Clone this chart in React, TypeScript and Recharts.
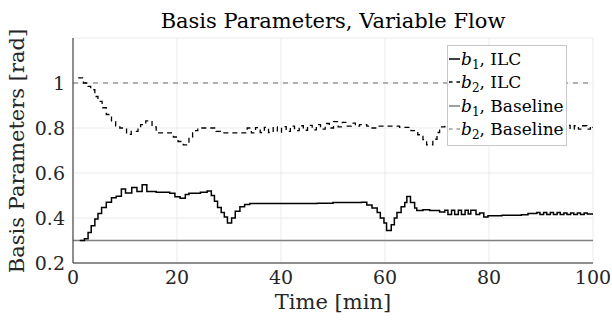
import React from 'react';
import { LineChart, Line, XAxis, YAxis, CartesianGrid, Legend, Label, Customized } from 'recharts';

const FONT = '"DejaVu Serif", serif';

const xTicks = [0, 20, 40, 60, 80, 100];
const yTicks = [0.2, 0.4, 0.6, 0.8, 1];

const b1Time = [
  1.3, 2.2, 2.9, 3.5, 4.2, 4.8, 5.5, 6.4, 7.4, 8.3,
  9.3, 10.1, 11.3, 12.3, 13.3, 14.2, 16.0, 18.6, 19.6, 20.6,
  21.6, 22.3, 24.5, 25.8, 26.6, 27.2, 27.8, 28.5, 29.1, 29.7,
  30.5, 31.2, 32.1, 33.0, 34.0, 40.0, 47.0, 50.0, 55.5, 56.5,
  57.5, 58.5, 59.1, 59.8, 60.3, 61.2, 61.8, 62.3, 63.1, 63.8,
  64.2, 64.9, 65.7, 66.1, 67.3, 68.6, 70.5, 71.5, 72.1, 72.8,
  73.4, 74.1, 74.7, 75.4, 76.0, 76.5, 77.5, 78.2, 79.0, 79.8,
  82.5, 86.2, 87.5, 89.2, 89.8, 90.5, 91.1, 91.8, 92.4, 93.1,
  93.7, 94.4, 95.0, 95.7, 96.3, 97.0, 97.6, 98.3, 98.9, 100,
];
const b1Ilc = [
  0.300, 0.308, 0.336, 0.366, 0.396, 0.420, 0.447, 0.470, 0.490, 0.497,
  0.529, 0.511, 0.536, 0.518, 0.548, 0.518, 0.515, 0.510, 0.495, 0.488,
  0.505, 0.510, 0.515, 0.520, 0.500, 0.474, 0.447, 0.425, 0.405, 0.378,
  0.400, 0.430, 0.450, 0.460, 0.465, 0.464, 0.466, 0.469, 0.470, 0.458,
  0.445, 0.425, 0.400, 0.378, 0.345, 0.370, 0.400, 0.425, 0.450, 0.469,
  0.496, 0.469, 0.445, 0.433, 0.437, 0.433, 0.427, 0.435, 0.416, 0.435,
  0.416, 0.435, 0.416, 0.435, 0.418, 0.435, 0.416, 0.422, 0.405, 0.410,
  0.412, 0.414, 0.420, 0.424, 0.416, 0.424, 0.416, 0.424, 0.416, 0.424,
  0.416, 0.422, 0.416, 0.422, 0.416, 0.422, 0.416, 0.422, 0.418, 0.418,
];

const b2Time = [
  1.0, 2.0, 2.9, 3.4, 4.2, 4.8, 5.6, 6.4, 7.4, 8.2,
  9.0, 10.3, 11.2, 12.5, 13.0, 14.0, 15.2, 16.0, 17.4, 19.3,
  20.2, 21.2, 22.3, 23.0, 24.0, 27.5, 28.8, 33.5, 34.3, 35.1,
  36.0, 36.8, 37.6, 38.5, 39.3, 40.1, 41.0, 41.8, 42.6, 43.5,
  44.3, 45.1, 46.0, 46.8, 47.6, 48.5, 49.3, 50.1, 51.0, 51.8,
  52.6, 53.5, 54.3, 55.1, 56.5, 57.5, 58.5, 62.8, 65.0, 66.3,
  67.3, 68.0, 69.2, 70.0, 70.5, 71.5, 73.0, 75.0, 77.0, 80.0,
  83.0, 86.0, 89.0, 92.0, 94.0, 94.8, 95.6, 96.4, 97.2, 98.0,
  98.8, 99.5, 100,
];
const b2Ilc = [
  1.023, 1.000, 0.985, 0.970, 0.940, 0.918, 0.890, 0.860, 0.828, 0.805,
  0.800, 0.772, 0.785, 0.800, 0.815, 0.832, 0.805, 0.778, 0.778, 0.760,
  0.740, 0.725, 0.760, 0.788, 0.800, 0.785, 0.778, 0.800, 0.778, 0.802,
  0.780, 0.803, 0.780, 0.805, 0.782, 0.806, 0.785, 0.808, 0.788, 0.810,
  0.790, 0.812, 0.792, 0.815, 0.795, 0.820, 0.800, 0.828, 0.805, 0.825,
  0.808, 0.822, 0.808, 0.815, 0.808, 0.800, 0.808, 0.803, 0.788, 0.770,
  0.748, 0.725, 0.750, 0.780, 0.805, 0.810, 0.800, 0.812, 0.798, 0.808,
  0.798, 0.808, 0.800, 0.808, 0.798, 0.812, 0.795, 0.810, 0.795, 0.810,
  0.795, 0.808, 0.800,
];

const baseTime = [0, 100];
const b1Base = [0.3, 0.3];
const b2Base = [1, 1];

const zip = (ts: number[], vs: number[]) => ts.map((t, i) => ({ t, v: vs[i] }));

const b1IlcData = zip(b1Time, b1Ilc);
const b2IlcData = zip(b2Time, b2Ilc);
const b1BaseData = zip(baseTime, b1Base);
const b2BaseData = zip(baseTime, b2Base);

const legendItems = [
  { sub: '1', name: 'ILC', color: '#000000', dashed: false },
  { sub: '2', name: 'ILC', color: '#000000', dashed: true },
  { sub: '1', name: 'Baseline', color: '#808080', dashed: false },
  { sub: '2', name: 'Baseline', color: '#9a9a9a', dashed: true },
];

const LegendBox = () => (
  <div
    style={{
      boxSizing: 'border-box',
      width: 120,
      height: 101,
      background: '#fff',
      border: '1px solid #c8c8c8',
      fontFamily: FONT,
      fontSize: 17,
      color: '#000',
      paddingTop: 1,
    }}
  >
    {legendItems.map((it, i) => (
      <div key={i} style={{ height: 23.5, display: 'flex', alignItems: 'center', whiteSpace: 'nowrap' }}>
        <svg width={13} height={10} style={{ flex: 'none' }}>
          <line
            x1={1}
            y1={5}
            x2={12}
            y2={5}
            stroke={it.color}
            strokeWidth={1.5}
            strokeDasharray={it.dashed ? '3.5 4' : undefined}
          />
        </svg>
        <span>
          <i>b</i>
          <span style={{ fontSize: 12, position: 'relative', top: 4 }}>{it.sub}</span>, {it.name}
        </span>
      </div>
    ))}
  </div>
);

const Title = () => (
  <text x={333} y={28} textAnchor="middle" fontFamily={FONT} fontSize={21} fill="#000">
    Basis Parameters, Variable Flow
  </text>
);

const YTitle = () => (
  <text
    x={24}
    y={151}
    transform="rotate(-90 24 151)"
    textAnchor="middle"
    fontFamily={FONT}
    fontSize={21}
    fill="#262626"
  >
    Basis Parameters [rad]
  </text>
);

const fmtY = (v: number) => (v === 1 ? '1' : v.toFixed(1));

export default function App() {
  return (
    <div style={{ position: 'absolute', left: 0, top: 0, width: 612, height: 325, background: '#fff' }}>
      <LineChart width={612} height={325} margin={{ top: 38, right: 19, bottom: 0, left: 0 }}>
        <CartesianGrid stroke="#e6e6e6" strokeWidth={0.8} />
        <XAxis
          type="number"
          dataKey="t"
          domain={[0, 100]}
          ticks={xTicks}
          allowDataOverflow
          height={62}
          tickLine={false}
          axisLine={{ stroke: '#262626', strokeWidth: 1 }}
          tick={{ fontFamily: FONT, fontSize: 19, fill: '#262626' }}
        >
          <Label
            value="Time [min]"
            position="insideBottom"
            offset={16}
            style={{ fontFamily: FONT, fontSize: 21, fill: '#262626' }}
          />
        </XAxis>
        <YAxis
          type="number"
          domain={[0.2, 1.2]}
          ticks={yTicks}
          allowDataOverflow
          width={73}
          tickLine={false}
          tickFormatter={fmtY}
          axisLine={{ stroke: '#262626', strokeWidth: 1 }}
          tick={{ fontFamily: FONT, fontSize: 19, fill: '#262626' }}
        />
        <Line
          data={b2BaseData}
          dataKey="v"
          type="linear"
          stroke="#9a9a9a"
          strokeWidth={1.3}
          strokeDasharray="5 5"
          dot={false}
          isAnimationActive={false}
        />
        <Line
          data={b1BaseData}
          dataKey="v"
          type="linear"
          stroke="#808080"
          strokeWidth={1.5}
          dot={false}
          isAnimationActive={false}
        />
        <Line
          data={b2IlcData}
          dataKey="v"
          type="stepAfter"
          stroke="#000"
          strokeWidth={1.3}
          strokeDasharray="5 4"
          dot={false}
          isAnimationActive={false}
        />
        <Line
          data={b1IlcData}
          dataKey="v"
          type="stepAfter"
          stroke="#000"
          strokeWidth={1.5}
          dot={false}
          isAnimationActive={false}
        />
        <Customized component={Title} />
        <Customized component={YTitle} />
        <Legend
          layout="horizontal"
          verticalAlign="middle"
          align="center"
          content={() => <LegendBox />}
          wrapperStyle={{ left: 447, top: 45, width: 120, height: 101 }}
        />
      </LineChart>
    </div>
  );
}
